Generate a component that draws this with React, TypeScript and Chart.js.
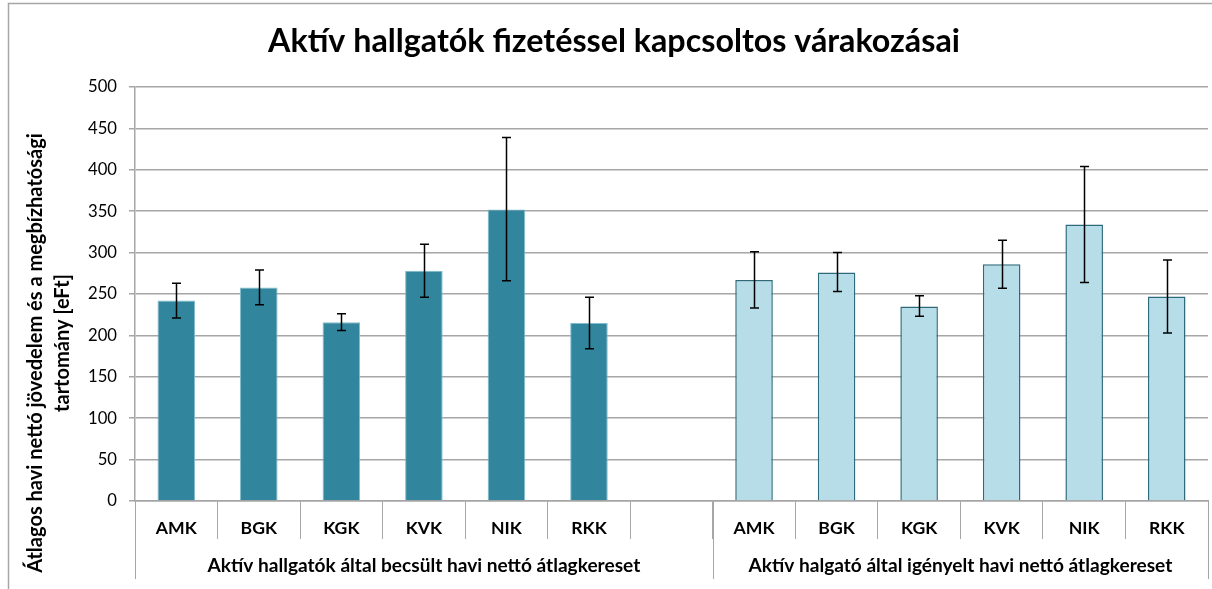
import React, { useEffect, useRef } from 'react';
import { Chart, registerables } from 'chart.js';

Chart.register(...registerables);

const TITLE = 'Aktív hallgatók fizetéssel kapcsoltos várakozásai';
const Y_TITLE = ['Átlagos havi nettó jövedelem és a megbízhatósági', 'tartomány [eFt]'];
const FACULTIES = ['AMK', 'BGK', 'KGK', 'KVK', 'NIK', 'RKK'];
const GROUPS = [
  'Aktív hallgatók által becsült havi nettó átlagkereset',
  'Aktív halgató által igényelt havi nettó átlagkereset',
];
const ESTIMATED = [242, 258, 216, 278, 352, 215];
const ESTIMATED_LOW = [221, 237, 206, 246, 266, 184];
const ESTIMATED_HIGH = [263, 279, 226, 310, 439, 246];
const REQUESTED = [267, 276, 235, 286, 334, 247];
const REQUESTED_LOW = [233, 253, 223, 257, 264, 203];
const REQUESTED_HIGH = [301, 300, 248, 315, 404, 291];
const Y_MIN = 0;
const Y_MAX = 500;
const Y_STEP = 50;

const FONT = 'Lato, "Open Sans", sans-serif';
const GRID = '#a6a6a6';

function fitSize(text: string, weight: string, target: number): number {
  const c = document.createElement('canvas').getContext('2d')!;
  c.font = `${weight} 100px ${FONT}`;
  return (100 * target) / c.measureText(text).width;
}

export default function App() {
  const ref = useRef<HTMLCanvasElement>(null);

  useEffect(() => {
    const titleSize = fitSize(TITLE, 'bold', 692);
    const yTitleSize = fitSize(Y_TITLE[0], 'bold', 440);
    const groupSize = fitSize(GROUPS[0], 'bold', 433);
    const catSize = fitSize('AMK', 'bold', 41);
    const tickSize = fitSize('400', 'normal', 29);

    const gap = [''];
    const labels = [...FACULTIES, ...gap, ...FACULTIES];
    const pad = (arr: number[], before: number, after: number) => [
      ...Array(before).fill(null),
      ...arr,
      ...Array(after).fill(null),
    ];
    const lows = [pad(ESTIMATED_LOW, 0, 7), pad(REQUESTED_LOW, 7, 0)];
    const highs = [pad(ESTIMATED_HIGH, 0, 7), pad(REQUESTED_HIGH, 7, 0)];

    const decor = {
      id: 'decor',
      afterDraw(chart: any) {
        const ctx = chart.ctx;
        const ca = chart.chartArea;
        const xs = chart.scales.x;
        const ys = chart.scales.y;
        ctx.save();
        // error bars
        ctx.strokeStyle = '#000';
        ctx.lineWidth = 1.5;
        for (let d = 0; d < 2; d++) {
          const meta = chart.getDatasetMeta(d);
          meta.data.forEach((el: any, i: number) => {
            const lo = lows[d][i];
            const hi = highs[d][i];
            if (lo == null || hi == null) return;
            const x = Math.round(el.x) + 0.5;
            const y1 = ys.getPixelForValue(hi);
            const y2 = ys.getPixelForValue(lo);
            ctx.beginPath();
            ctx.moveTo(x, y1);
            ctx.lineTo(x, y2);
            ctx.moveTo(x - 4.5, y1);
            ctx.lineTo(x + 4.5, y1);
            ctx.moveTo(x - 4.5, y2);
            ctx.lineTo(x + 4.5, y2);
            ctx.stroke();
          });
        }
        // frame
        ctx.strokeStyle = GRID;
        ctx.lineWidth = 1.5;
        ctx.beginPath();
        ctx.moveTo(8.5, 589);
        ctx.lineTo(8.5, 3.5);
        ctx.lineTo(1212, 3.5);
        ctx.stroke();
        // long group separators
        const mid = (xs.getPixelForValue(6) + xs.getPixelForValue(7)) / 2;
        ctx.lineWidth = 1;
        ctx.beginPath();
        [ca.left, mid, ca.right].forEach((x: number) => {
          const xx = Math.round(x) + 0.5;
          ctx.moveTo(xx, ca.bottom);
          ctx.lineTo(xx, 579);
        });
        ctx.stroke();
        // group labels
        ctx.fillStyle = '#000';
        ctx.textAlign = 'center';
        ctx.textBaseline = 'middle';
        ctx.font = `bold ${groupSize}px ${FONT}`;
        ctx.fillText(GROUPS[0], (ca.left + mid) / 2, 566);
        ctx.fillText(GROUPS[1], (mid + ca.right) / 2, 566);
        // title
        ctx.font = `bold ${titleSize}px ${FONT}`;
        ctx.fillText(TITLE, 614, 42);
        // y title
        ctx.font = `bold ${yTitleSize}px ${FONT}`;
        ctx.save();
        ctx.translate(36, 353);
        ctx.rotate(-Math.PI / 2);
        ctx.fillText(Y_TITLE[0], 0, 0);
        ctx.restore();
        ctx.save();
        ctx.translate(63, 343);
        ctx.rotate(-Math.PI / 2);
        ctx.fillText(Y_TITLE[1], 0, 0);
        ctx.restore();
        ctx.restore();
      },
    };

    const chart = new Chart(ref.current!, {
      type: 'bar',
      data: {
        labels,
        datasets: [
          {
            label: GROUPS[0],
            data: pad(ESTIMATED, 0, 7),
            backgroundColor: '#31859C',
            borderColor: '#7fbccd',
            borderWidth: 1,
          },
          {
            label: GROUPS[1],
            data: pad(REQUESTED, 7, 0),
            backgroundColor: '#B7DEE8',
            borderColor: '#2e6a7b',
            borderWidth: 1.5,
          },
        ],
      },
      options: {
        responsive: false,
        animation: false,
        devicePixelRatio: 1,
        layout: { padding: { top: 87, left: 0, right: 4, bottom: 0 } },
        datasets: {
          bar: { grouped: false, categoryPercentage: 1, barPercentage: 0.455 },
        },
        plugins: {
          legend: { display: false },
          tooltip: { enabled: false },
          title: { display: false },
        },
        scales: {
          x: {
            offset: true,
            afterFit(scale: any) {
              scale.height = 88;
            },
            grid: {
              display: true,
              drawOnChartArea: false,
              drawTicks: true,
              tickLength: 38,
              offset: true,
              color: GRID,
              lineWidth: 1,
            },
            border: { display: true, color: GRID, width: 1.5 },
            ticks: {
              color: '#000',
              padding: -21,
              maxRotation: 0,
              autoSkip: false,
              font: { family: FONT, size: catSize, weight: 'bold' },
            },
          },
          y: {
            min: Y_MIN,
            max: Y_MAX,
            afterFit(scale: any) {
              scale.width = 135;
            },
            ticks: {
              stepSize: Y_STEP,
              color: '#000',
              padding: 12,
              font: { family: FONT, size: tickSize },
            },
            grid: { color: GRID, lineWidth: 1.5, tickLength: 6 },
            border: { display: true, color: GRID, width: 1.5 },
          },
        },
      },
      plugins: [decor],
    } as any);
    return () => chart.destroy();
  }, []);

  return (
    <div style={{ position: 'absolute', left: 0, top: 0, width: 1212, height: 589, background: '#fff' }}>
      <canvas ref={ref} width={1212} height={589} style={{ display: 'block', width: 1212, height: 589 }} />
    </div>
  );
}
